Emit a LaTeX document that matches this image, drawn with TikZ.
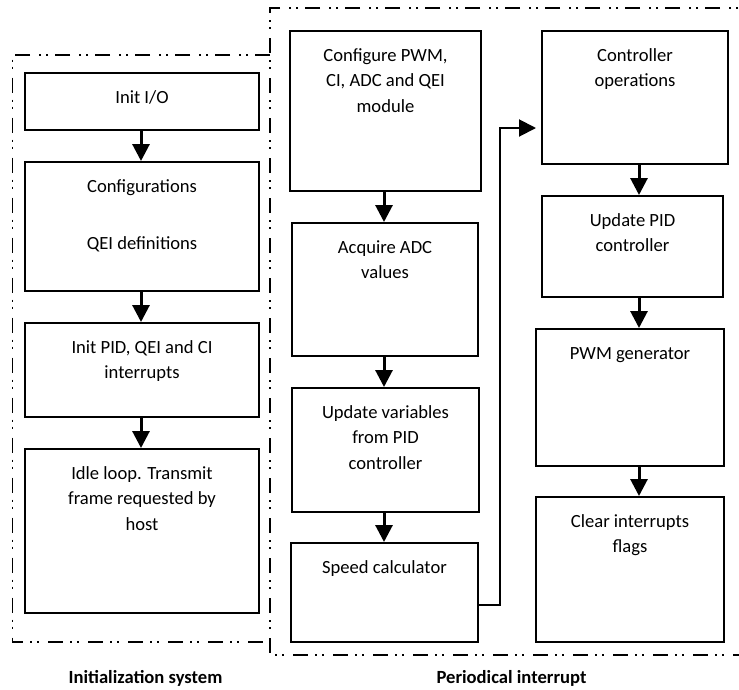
\documentclass[tikz,border=0pt]{standalone}
\usepackage{fontspec}
\setmainfont{Carlito}
\usetikzlibrary{arrows.meta}

\begin{document}
\begin{tikzpicture}[x=1pt,y=-1pt,
  stepbox/.style={draw=black,line width=2pt,fill=white,inner sep=0pt},
  steptext/.style={anchor=north,align=center,inner sep=0pt,
    font=\fontsize{18.6}{25.5}\selectfont},
  flow/.style={-{Triangle[length=17pt,width=17pt]},line width=3pt},
  jump/.style={-{Triangle[length=17pt,width=17pt]},line width=2pt},
  region/.style={line width=1.5pt,
    dash pattern=on 15pt off 7pt on 2pt off 5pt on 2pt off 9pt},
  caption/.style={anchor=base,inner sep=0pt,
    font=\fontsize{18.6}{22}\selectfont\bfseries}]

\useasboundingbox (0,0) rectangle (739,689);
\fill[white] (0,0) rectangle (739,689);
\clip (0,0) rectangle (739,689);

% box from corner (x1,y1) to (x2,y2), with its text 31pt below the top edge
\newcommand\flowbox[6]{%
  \node[stepbox,minimum width={#4-#2},minimum height={#5-#3}]
    (#1) at ({(#2+#4)/2},{(#3+#5)/2}) {};
  \node[steptext] (#1text) at ([yshift=-13.15pt]#1.north) {\strut#6};}

% dash-dot regions
\draw[region] (270,55) -- (12.7,55) -- (12.7,642) -- (270,642);
\draw[region] (760,8) -- (270,8) -- (270,655) -- (760,655);

% initialization system
\flowbox{io}{25}{73}{259}{130}{Init I/O}
\flowbox{cfg}{25}{162}{259}{291}{Configurations\\[32.1pt]QEI definitions}
\flowbox{ipid}{25}{323}{259}{417}{Init PID, QEI and CI\\interrupts}
\flowbox{idle}{25}{449}{259}{613}{Idle loop. Transmit\\frame requested by\\host}

% periodical interrupt, first column
\flowbox{cpwm}{290}{31}{481}{191}{Configure PWM,\\CI, ADC and QEI\\module}
\flowbox{adc}{292}{223}{478}{356}{Acquire ADC\\values}
\flowbox{upv}{292}{388}{479}{512}{Update variables\\from PID\\controller}
\flowbox{spd}{291}{543}{478}{642}{Speed calculator}

% periodical interrupt, second column
\flowbox{ctrl}{542}{31}{728}{164}{Controller\\operations}
\flowbox{upid}{542}{196}{723}{297}{Update PID\\controller}
\flowbox{pwmg}{536}{329}{724}{466}{PWM generator}
\flowbox{clr}{536}{497}{724}{642}{Clear interrupts\\flags}

% sequence arrows
\coordinate (colA) at (141,0);
\coordinate (colB) at (384,0);
\coordinate (colC) at (639,0);
\draw[flow] (io.south -| colA) -- (cfg.north -| colA);
\draw[flow] (cfg.south -| colA) -- (ipid.north -| colA);
\draw[flow] (ipid.south -| colA) -- (idle.north -| colA);
\draw[flow] (cpwm.south -| colB) -- (adc.north -| colB);
\draw[flow] (adc.south -| colB) -- (upv.north -| colB);
\draw[flow] (upv.south -| colB) -- (spd.north -| colB);
\draw[flow] (ctrl.south -| colC) -- (upid.north -| colC);
\draw[flow] (upid.south -| colC) -- (pwmg.north -| colC);
\draw[flow] (pwmg.south -| colC) -- (clr.north -| colC);

% hand-over from speed calculator to controller operations
\coordinate (tapout) at ([yshift=-12.5pt]spd.east);
\coordinate (tapin) at ([xshift=-5pt,yshift=-30.5pt]ctrl.west);
\draw[jump] (tapout) -- ++(21,0) |- (tapin);

% region captions
\node[caption] (capinit) at (145.5,683) {Initialization system};
\node[caption] (capint) at (511.5,683) {Periodical interrupt};
\end{tikzpicture}
\end{document}
